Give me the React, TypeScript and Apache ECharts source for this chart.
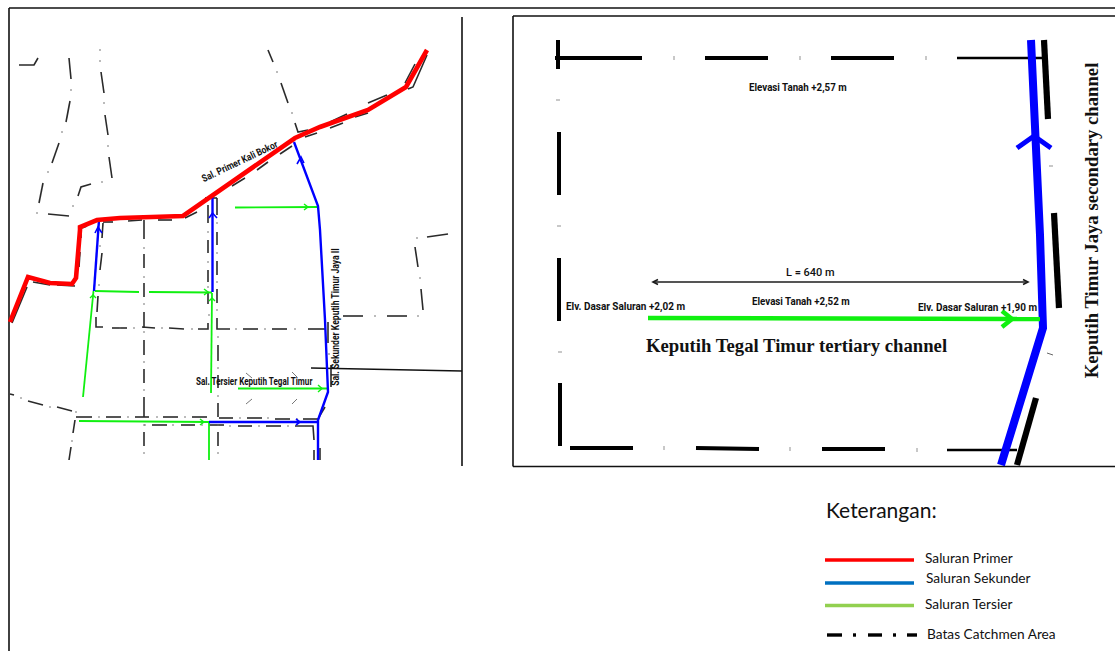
import React, { useEffect, useRef } from "react";
import * as echarts from "echarts";

type Pt = [number, number];
type Line = Pt[];

const RED = "#ff0000";
const BLUE = "#0000ff";
const GREEN = "#10f010";
const INK = "#1c1c1c";

const frameLines: Line[] = [
  [[9, 8], [1115, 8]],
  [[9, 8], [9, 651]],
  [[462, 17], [462, 466]],
  [[311, 368], [462, 371]],
  [[513, 16], [1115, 16]],
  [[513, 16], [513, 466.5]],
  [[513, 466.5], [1115, 466.5]],
];

const primaryChannel: Line = [
  [427, 50], [406, 87], [368, 110], [320, 127], [295, 138], [183, 216], [120, 218], [97, 220], [80, 227],
  [80, 230], [76, 278], [72, 284], [50, 283], [28, 277], [10, 322],
];

const secondaryChannels: Line[] = [
  [[99, 220], [94, 291]],
  [[212.5, 195], [212.5, 292]],
  [[294, 142], [318, 206], [320, 230], [325, 320], [328, 392], [318, 420], [318, 460]],
  [[209, 422], [318, 422]],
];

const secondaryArrows: Line[] = [
  [[95, 233], [98, 227], [102, 233]],
  [[209, 218], [212.5, 213], [217, 218]],
  [[297, 164], [301, 157], [304, 163]],
  [[296, 419], [300, 422], [296, 425]],
];

const tertiaryChannels: Line[] = [
  [[235, 207.5], [318, 207]],
  [[83, 397], [93.5, 291]],
  [[95, 291], [139, 292]],
  [[149, 292], [212, 292.5]],
  [[211, 393], [212, 293]],
  [[238, 388.5], [328, 388.5]],
  [[79, 421], [209, 422]],
  [[209, 422], [209, 460]],
];

const tertiaryArrows: Line[] = [
  [[304, 204], [308, 207], [304, 210]],
  [[90, 298], [93, 295], [96, 298]],
  [[204, 289], [208, 292], [204, 295]],
  [[209, 301], [212, 298], [215, 301]],
  [[318, 385], [322, 388.5], [318, 392]],
  [[200, 419], [204, 422], [200, 425]],
];

const catchmentDashes: Line[] = [
  [[19, 65], [34, 65], [38, 58]],
  [[69, 58], [71, 79]], [[70, 101], [66, 122]], [[59, 143], [52, 163]], [[43, 183], [39, 203]],
  [[48, 214], [69, 216]], [[78, 196], [81, 187], [91, 184]],
  [[101, 72], [104, 93]], [[105, 115], [108, 135]], [[109, 157], [112, 178]],
  [[268, 50], [273, 62]], [[281, 83], [288, 103]], [[295, 123], [298, 132], [308, 130]],
  [[305, 137], [317, 133]], [[330, 122], [347, 114]], [[330, 128], [343, 123]], [[355, 117], [368, 113]],
  [[368, 103], [387, 95]], [[372, 107], [393, 95]], [[405, 83], [415, 64]], [[408, 89], [413, 87], [427, 55]],
  [[280, 154], [292, 146]], [[257, 170], [268, 162]], [[232, 186], [245, 178]], [[185, 218], [197, 212]],
  [[158, 220], [172, 220]], [[128, 221], [142, 220]], [[103, 222], [113, 222]], [[82, 228], [87, 226]],
  [[144, 220], [144, 239]], [[144, 254], [144, 268]], [[144, 283], [144, 297]], [[144, 312], [144, 328]],
  [[144, 340], [144, 355]], [[144, 369], [144, 383]], [[144, 397], [144, 417]], [[144, 432], [144, 446]],
  [[103, 223], [102, 238]], [[102, 253], [100, 270]], [[98, 296], [97, 312]],
  [[96, 317], [96, 327], [103, 327]], [[112, 328], [127, 328]], [[142, 327], [155, 328]], [[169, 328], [184, 329]],
  [[198, 329], [208, 329], [208, 323]], [[208, 205], [208, 223]], [[208, 240], [208, 253]], [[208, 270], [208, 282]],
  [[208, 293], [208, 304]], [[205, 198], [217, 198]],
  [[217, 198], [217, 215]], [[217, 232], [217, 245]], [[217, 261], [217, 275]], [[217, 289], [217, 303]],
  [[217, 318], [217, 329], [230, 329]], [[243, 329], [258, 329]], [[272, 329], [287, 329]], [[308, 329], [325, 329]],
  [[328, 322], [328, 343]], [[343, 316], [363, 316]], [[387, 316], [407, 316]], [[423, 310], [421, 289]],
  [[418, 267], [415, 247]], [[427, 237], [448, 234]],
  [[218, 345], [218, 361]], [[218, 375], [218, 388]], [[218, 403], [218, 417]], [[218, 432], [218, 446]],
  [[76, 417], [92, 417]], [[106, 417], [121, 417]], [[135, 417], [149, 417]], [[163, 417], [178, 417]], [[192, 417], [207, 417]],
  [[219, 418], [233, 418]], [[247, 418], [262, 418]], [[275, 419], [290, 419]], [[303, 419], [318, 419]],
  [[152, 425], [167, 425]], [[181, 425], [195, 425]], [[209, 425], [224, 425]], [[238, 426], [252, 426]], [[266, 426], [281, 426]],
  [[295, 426], [313, 426], [314, 440]], [[314, 450], [314, 460]], [[319, 417], [325, 407]], [[320, 448], [320, 460]],
  [[28, 401], [43, 405]], [[57, 407], [72, 411]], [[10, 394], [14, 395]], [[75, 420], [73, 433]], [[71, 447], [69, 460]],
  [[12, 323], [27, 287]], [[33, 282], [50, 285]], [[57, 285], [75, 286]], [[80, 252], [79, 267]], [[81, 232], [81, 238]],
  [[331, 365], [331, 387]],
];

const faintMarks: Line[] = [
  [[246, 373], [252, 378]], [[292, 372], [297, 377]], [[246, 404], [252, 399]], [[292, 404], [297, 399]],
];

const catchmentDots: Pt[] = [
  [71, 90], [62, 132], [48, 172], [37, 213], [73, 206], [100, 50], [100, 61], [104, 103], [108, 146], [102, 182],
  [277, 72], [292, 113], [144, 248], [144, 277], [144, 304], [144, 332], [144, 362], [144, 390], [144, 425], [144, 453],
  [100, 246], [99, 285], [120, 328], [134, 328], [162, 328], [192, 329], [209, 315], [208, 232], [208, 262], [208, 287],
  [217, 223], [217, 253], [217, 282], [217, 310], [218, 337], [236, 329], [265, 329], [295, 329], [375, 316], [418, 316],
  [420, 278], [417, 238], [218, 368], [218, 396], [218, 425], [218, 453], [99, 417], [128, 417], [157, 417], [185, 417],
  [240, 418], [268, 418], [297, 419], [145, 425], [173, 425], [202, 425], [230, 426], [259, 426], [288, 426],
  [21, 398], [50, 407], [76, 412], [72, 441], [329, 354],
];

const profileDashes: Line[] = [
  [[558, 40], [558, 69]],
  [[555, 58], [642, 58]], [[705, 58], [768, 58]], [[831, 58], [894, 58]],
  [[559, 132], [559, 195]], [[559, 258], [559, 321]], [[560, 383], [560, 446]],
  [[570, 448], [633, 448]], [[696, 448], [759, 449]], [[822, 449], [885, 449]],
];
const profileHeavyDashes: Line[] = [
  [[1044, 40], [1048, 119]], [[1054, 213], [1059, 308]], [[1036, 398], [1017, 465]],
];
const profileThinDashes: Line[] = [
  [[957, 58], [1043, 58]],
  [[947, 450], [1017, 450]],
];
const profileTicksAcross: Pt[] = [[674, 58], [800, 58], [926, 58], [664, 448], [790, 449], [917, 450]];
const profileTicksAlong: Pt[] = [[558, 100], [559, 226], [560, 352], [1051, 166]];
const profileSlant: Line = [[1047, 353], [1053, 355]];

const profileSecondary: Line = [[1031, 40], [1040, 235], [1043, 328], [1001, 465]];
const profileSecondaryArrow: Line = [[1017, 148], [1034, 136], [1051, 148]];
const profileTertiary: Line = [[648, 318], [1040, 319]];
const profileTertiaryArrow: Line = [[1002, 311], [1012, 319], [1002, 327]];
const lengthLine: Line = [[653, 282], [1028, 282]];
const lengthArrows: Line[] = [
  [[658, 279.5], [653, 282], [658, 284.5]],
  [[1023, 279.5], [1028, 282], [1023, 284.5]],
];

const legendPrimary: Line = [[825, 560], [914, 560]];
const legendSecondary: Line = [[825, 583], [914, 583]];
const legendTertiary: Line = [[825, 605.5], [914, 605.5]];
const legendCatchment: Line[] = [
  [[827, 635], [842, 635]], [[853, 635], [856, 635]], [[868, 635], [882, 635]], [[893, 635], [896, 635]], [[907, 635], [917, 635]],
];

const CAD_MAP = "bold 10px Roboto";
const CAD_PROFILE = "bold 10.5px Roboto";
const SERIF = 'bold 18.7px "Liberation Serif"';
const LEGEND = "13.7px Lato";

type Label = { text: string; x: number; y: number; font: string; rot?: number; sx?: number; align?: string };
const labels: Label[] = [
  { text: "Sal. Primer Kali Bokor", x: 239.5, y: 161, font: CAD_MAP, rot: 25.5, align: "center", sx: 0.84 },
  { text: "Sal. Sekunder Keputih Timur Jaya II", x: 335, y: 317, font: CAD_MAP, rot: 90, align: "center", sx: 0.86 },
  { text: "Sal. Tersier Keputih Tegal Timur", x: 196, y: 382, font: CAD_MAP, sx: 0.81 },
  { text: "Elevasi Tanah +2,57 m", x: 749, y: 87, font: CAD_PROFILE, sx: 0.93 },
  { text: "Elv. Dasar Saluran +2,02 m", x: 566, y: 306, font: CAD_PROFILE, sx: 0.95 },
  { text: "Elevasi Tanah +2,52 m", x: 752, y: 301, font: CAD_PROFILE, sx: 0.93 },
  { text: "Elv. Dasar Saluran +1,90 m", x: 918, y: 307, font: CAD_PROFILE, sx: 0.95 },
  { text: "L = 640 m", x: 786, y: 272, font: "500 11px Roboto" },
  { text: "Keputih Tegal Timur tertiary channel", x: 646, y: 345, font: SERIF },
  { text: "Keputih Timur Jaya secondary channel", x: 1091, y: 220.5, font: SERIF, rot: 90, align: "center" },
  { text: "Keterangan:", x: 826, y: 509, font: "21px Lato" },
  { text: "Saluran Primer", x: 925, y: 557, font: LEGEND },
  { text: "Saluran Sekunder", x: 926, y: 577, font: LEGEND },
  { text: "Saluran Tersier", x: 925, y: 603, font: LEGEND },
  { text: "Batas Catchmen Area", x: 927, y: 633, font: LEGEND },
];

const line = (data: Line, color: string, width: number, z = 2) => ({
  type: "line",
  data,
  z,
  clip: false,
  silent: true,
  showSymbol: false,
  symbol: "none",
  smooth: false,
  lineStyle: { color, width, cap: "butt", join: "miter", miterLimit: 10 },
});

const dots = (data: Pt[], color: string, size: [number, number] | number) => ({
  type: "scatter",
  data,
  clip: false,
  silent: true,
  symbol: "rect",
  symbolSize: size,
  itemStyle: { color },
  z: 1,
});

export default function App() {
  const ref = useRef<HTMLDivElement>(null);
  useEffect(() => {
    document.body.style.margin = "0";
    const chart = echarts.init(ref.current!, undefined, { renderer: "svg" });
    chart.setOption({
      animation: false,
      backgroundColor: "#ffffff",
      grid: { left: 0, right: 0, top: 0, bottom: 0 },
      xAxis: { type: "value", min: 0, max: 1115, show: false },
      yAxis: { type: "value", min: 0, max: 651, inverse: true, show: false },
      tooltip: { show: false },
      series: [
        ...frameLines.map((l) => line(l, "#111111", 1.6)),
        ...catchmentDashes.map((l) => line(l, "#2a2a2a", 1.6, 1)),
        ...faintMarks.map((l) => line(l, "#777777", 1, 1)),
        dots(catchmentDots, "#666666", 1.5),
        ...tertiaryChannels.map((l) => line(l, GREEN, 1.8)),
        ...tertiaryArrows.map((l) => line(l, GREEN, 1.4)),
        ...secondaryChannels.map((l) => line(l, BLUE, 2.4, 3)),
        ...secondaryArrows.map((l) => line(l, BLUE, 1.6, 3)),
        line(primaryChannel, RED, 4.6, 4),
        ...profileDashes.map((l) => line(l, "#000000", 4)),
        ...profileHeavyDashes.map((l) => line(l, "#000000", 6.2)),
        ...profileThinDashes.map((l) => line(l, "#000000", 2.6)),
        line(profileSlant, "#666666", 1, 1),
        dots(profileTicksAcross, "#777777", [1, 4]),
        dots(profileTicksAlong, "#777777", [4, 1]),
        line(profileSecondary, BLUE, 8, 3),
        line(profileSecondaryArrow, BLUE, 5, 3),
        line(profileTertiary, GREEN, 4.5, 3),
        line(profileTertiaryArrow, GREEN, 4.5, 3),
        line(lengthLine, INK, 1.6),
        ...lengthArrows.map((l) => line(l, INK, 1.6)),
        line(legendPrimary, RED, 3.4),
        line(legendSecondary, "#0070c0", 3.4),
        line(legendTertiary, "#92d050", 3.4),
        ...legendCatchment.map((l) => line(l, "#000000", 3.4)),
      ],
      graphic: labels.map((t) => ({
        type: "text",
        x: t.x,
        y: t.y,
        rotation: ((t.rot ?? 0) * Math.PI) / 180,
        scaleX: t.sx ?? 1,
        z: 10,
        silent: true,
        style: {
          text: t.text,
          font: t.font,
          fill: "#111111",
          textAlign: t.align ?? "left",
          textVerticalAlign: "middle",
        },
      })),
    });
    return () => chart.dispose();
  }, []);
  return <div ref={ref} style={{ width: 1115, height: 651 }} />;
}
